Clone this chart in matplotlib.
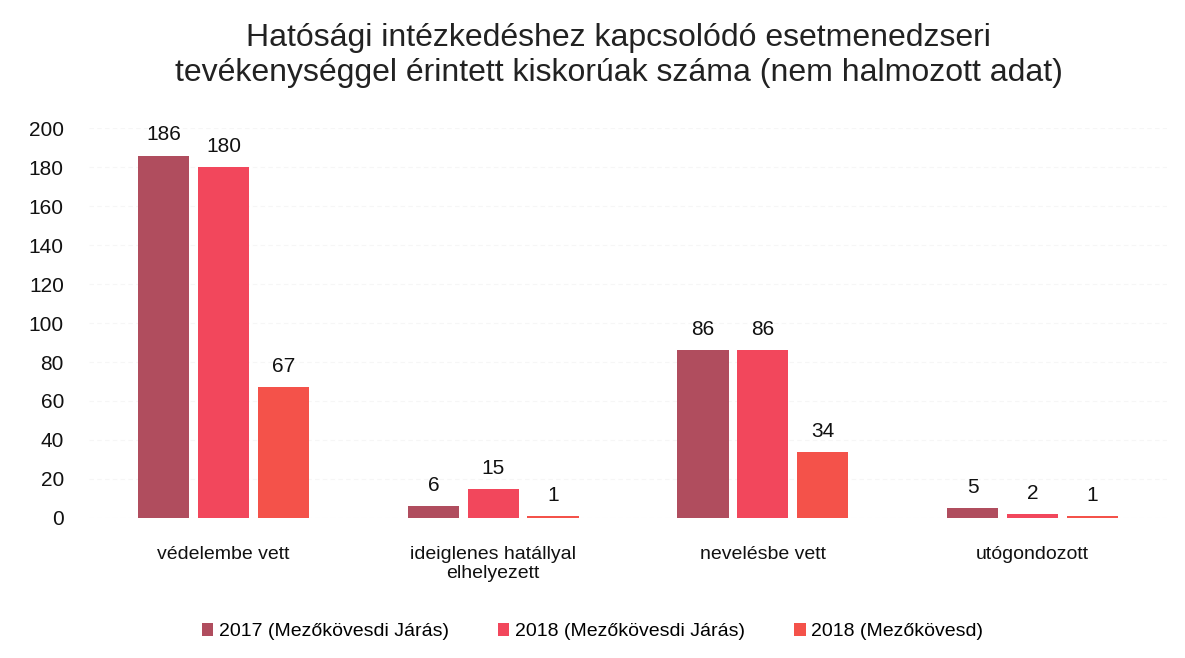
import matplotlib
matplotlib.use("Agg")
import matplotlib.pyplot as plt
import numpy as np

categories = ["védelembe vett", "ideiglenes hatállyal\nelhelyezett", "nevelésbe vett", "utógondozott"]
series_names = ["2017 (Mezőkövesdi Járás)", "2018 (Mezőkövesdi Járás)", "2018 (Mezőkövesd)"]
v2017_jaras = [186, 6, 86, 5]
v2018_jaras = [180, 15, 86, 2]
v2018_mk = [67, 1, 34, 1]
colors = ["#b04d5e", "#f2475c", "#f4524a"]
yticks = [0, 20, 40, 60, 80, 100, 120, 140, 160, 180, 200]

plt.rcParams['font.family'] = ['Liberation Sans Narrow', 'Liberation Sans', 'DejaVu Sans']

fig = plt.figure(figsize=(11.85, 6.58), dpi=100)
ax = fig.add_axes([0.075, 0.213, 0.91, 0.592])

x = np.arange(len(categories))
w = 0.19
step = 0.222
series = [v2017_jaras, v2018_jaras, v2018_mk]
handles = []
for i, (vals, name, c) in enumerate(zip(series, series_names, colors)):
    b = ax.bar(x + (i - 1) * step, vals, width=w, color=c, label=name, zorder=3)
    handles.append(b)
    for xi, v in zip(x + (i - 1) * step, vals):
        ax.annotate(str(v), (xi, v), xytext=(0, 8), textcoords="offset points",
                    ha="center", va="bottom", fontsize=15, color="#111111")

ax.set_xlim(-0.5, 3.5)
ax.set_ylim(0, 200)
ax.set_yticks(yticks)
ax.set_xticks(x)
ax.set_xticklabels(categories, fontsize=14, color="#111111")
ax.tick_params(axis="y", labelsize=15, length=0, pad=18, colors="#111111")
ax.tick_params(axis="x", length=0, pad=20)
for s in ax.spines.values():
    s.set_visible(False)
ax.yaxis.grid(True, color="#f6f6f6", linewidth=0.8, linestyle=(0, (4, 3)), zorder=0)

fig.suptitle("Hatósági intézkedéshez kapcsolódó esetmenedzseri\ntevékenységgel érintett kiskorúak száma (nem halmozott adat)",
             fontsize=23, x=0.522, y=0.965, color="#222222", linespacing=1.2)

fig.legend(handles=handles, labels=series_names, loc="lower center", ncol=3,
           bbox_to_anchor=(0.5, 0.0), frameon=False, fontsize=14,
           handlelength=0.6, handleheight=0.6, columnspacing=2.5, handletextpad=0.3)

fig.savefig("out.png", dpi=100)
